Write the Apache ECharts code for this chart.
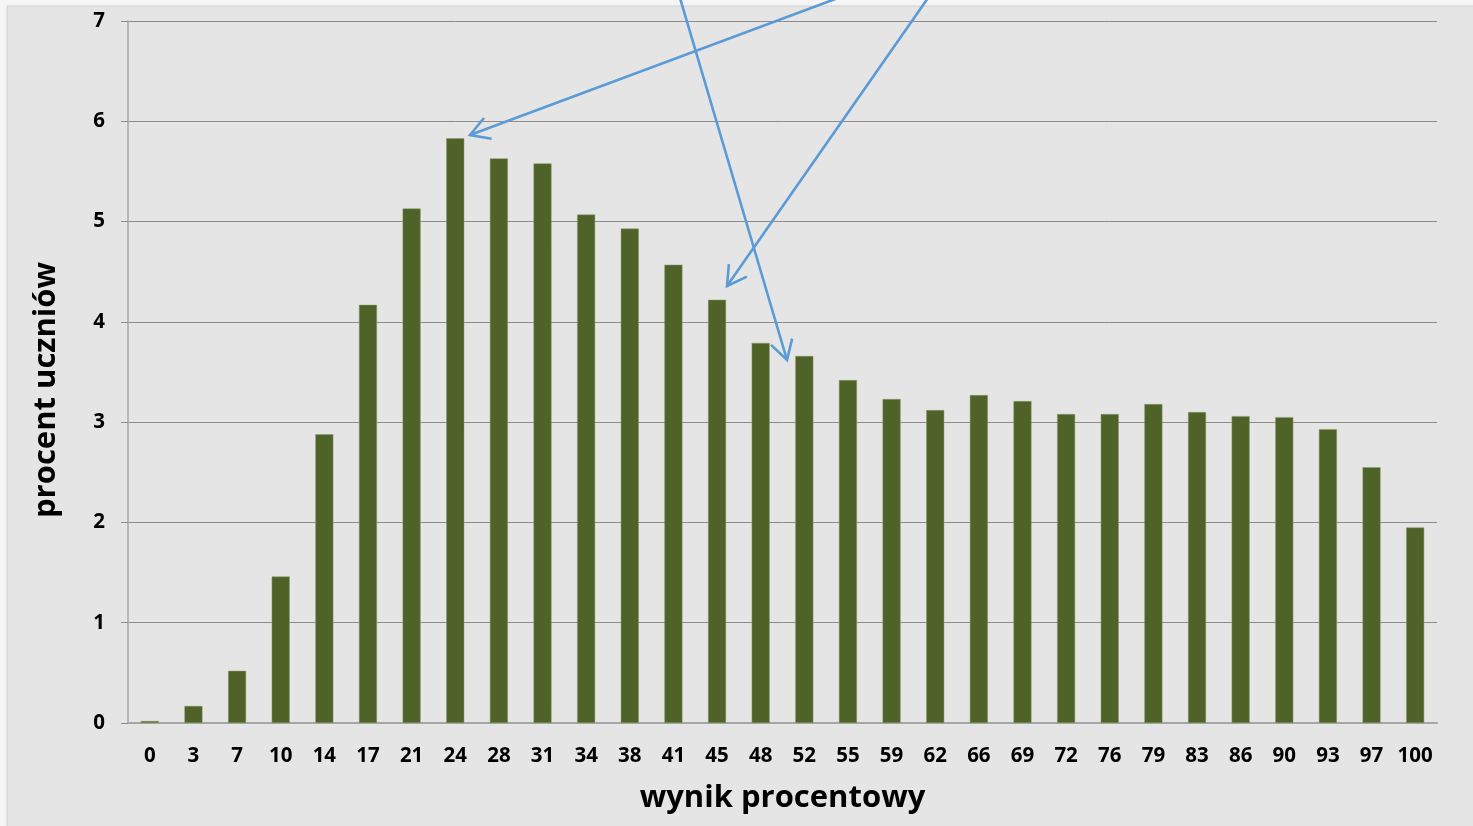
<!DOCTYPE html>
<html><head><meta charset="utf-8">
<script src="https://cdn.jsdelivr.net/npm/echarts@6/dist/echarts.min.js"></script>
<style>html,body{margin:0;padding:0;background:#f7f7f7;}#c{position:absolute;left:0;top:0;width:1473px;height:826px;}</style>
</head><body><div id="c"></div>
<script>
const categories = ['0','3','7','10','14','17','21','24','28','31','34','38','41','45','48','52','55','59','62','66','69','72','76','79','83','86','90','93','97','100'];
const percentOfStudents = [0.02,0.17,0.52,1.46,2.88,4.17,5.13,5.83,5.63,5.58,5.07,4.93,4.57,4.22,3.79,3.66,3.42,3.23,3.12,3.27,3.21,3.08,3.08,3.18,3.10,3.06,3.05,2.93,2.55,1.95];
const yTicks = [0,1,2,3,4,5,6,7];

const chart = echarts.init(document.getElementById('c'));
const font = '"Open Sans", "DejaVu Sans", sans-serif';

function arrow(x1,y1,x2,y2){
  const dx=x2-x1, dy=y2-y1, L=Math.hypot(dx,dy);
  const ux=-dx/L, uy=-dy/L, a=Math.PI/6, h=22;
  const r=(t)=>[x2+h*(ux*Math.cos(t)-uy*Math.sin(t)), y2+h*(ux*Math.sin(t)+uy*Math.cos(t))];
  const p1=r(a), p2=r(-a);
  const st={stroke:'#5b9bd5',lineWidth:2.6,fill:null};
  return [
    {type:'line',shape:{x1,y1,x2,y2},style:st,z:100},
    {type:'polyline',shape:{points:[p1,[x2,y2],p2]},style:st,z:100}
  ];
}

chart.setOption({
  backgroundColor:'#e5e5e5',
  animation:false,
  grid:{left:128,right:36,top:21,bottom:103},
  xAxis:{
    type:'category',data:categories,
    axisLine:{lineStyle:{color:'#a6a6a6',width:2}},
    axisTick:{show:false},
    axisLabel:{color:'#000',fontFamily:font,fontWeight:'bold',fontSize:20.5,margin:23,interval:0},
    name:'wynik procentowy',nameLocation:'middle',nameGap:60,
    nameTextStyle:{color:'#000',fontFamily:font,fontWeight:'bold',fontSize:31}
  },
  yAxis:{
    type:'value',min:0,max:7,interval:1,
    axisLine:{show:true,lineStyle:{color:'#a6a6a6',width:1.5}},
    axisTick:{show:true,length:7,lineStyle:{color:'#8c8c8c'}},
    splitLine:{lineStyle:{color:'#8c8c8c',width:1}},
    axisLabel:{color:'#000',fontFamily:font,fontWeight:'bold',fontSize:20.5,margin:23,
      formatter:(v)=>yTicks.includes(v)?String(v):''},
    name:'procent uczniów',nameLocation:'middle',nameGap:66,
    nameTextStyle:{color:'#000',fontFamily:font,fontWeight:'bold',fontSize:31,padding:[0,36,0,0]}
  },
  series:[{type:'bar',data:percentOfStudents,barWidth:18,
    itemStyle:{color:'#4f6228',borderColor:'#8a9a6a',borderWidth:0.5}}],
  graphic:[
    {type:'rect',shape:{x:0,y:0,width:1473,height:6},style:{fill:'#f5f5f5'},z:50},
    {type:'rect',shape:{x:0,y:0,width:7,height:826},style:{fill:'#f5f5f5'},z:50},
    {type:'line',shape:{x1:7,y1:6,x2:1473,y2:6},style:{stroke:'#d0d0d0',lineWidth:1},z:51},
    {type:'line',shape:{x1:7,y1:6,x2:7,y2:826},style:{stroke:'#d0d0d0',lineWidth:1},z:51},
    ...arrow(838,-2,470,135),
    ...arrow(680,-2,787,360),
    ...arrow(928,-2,727,286)
  ]
});
</script></body></html>
